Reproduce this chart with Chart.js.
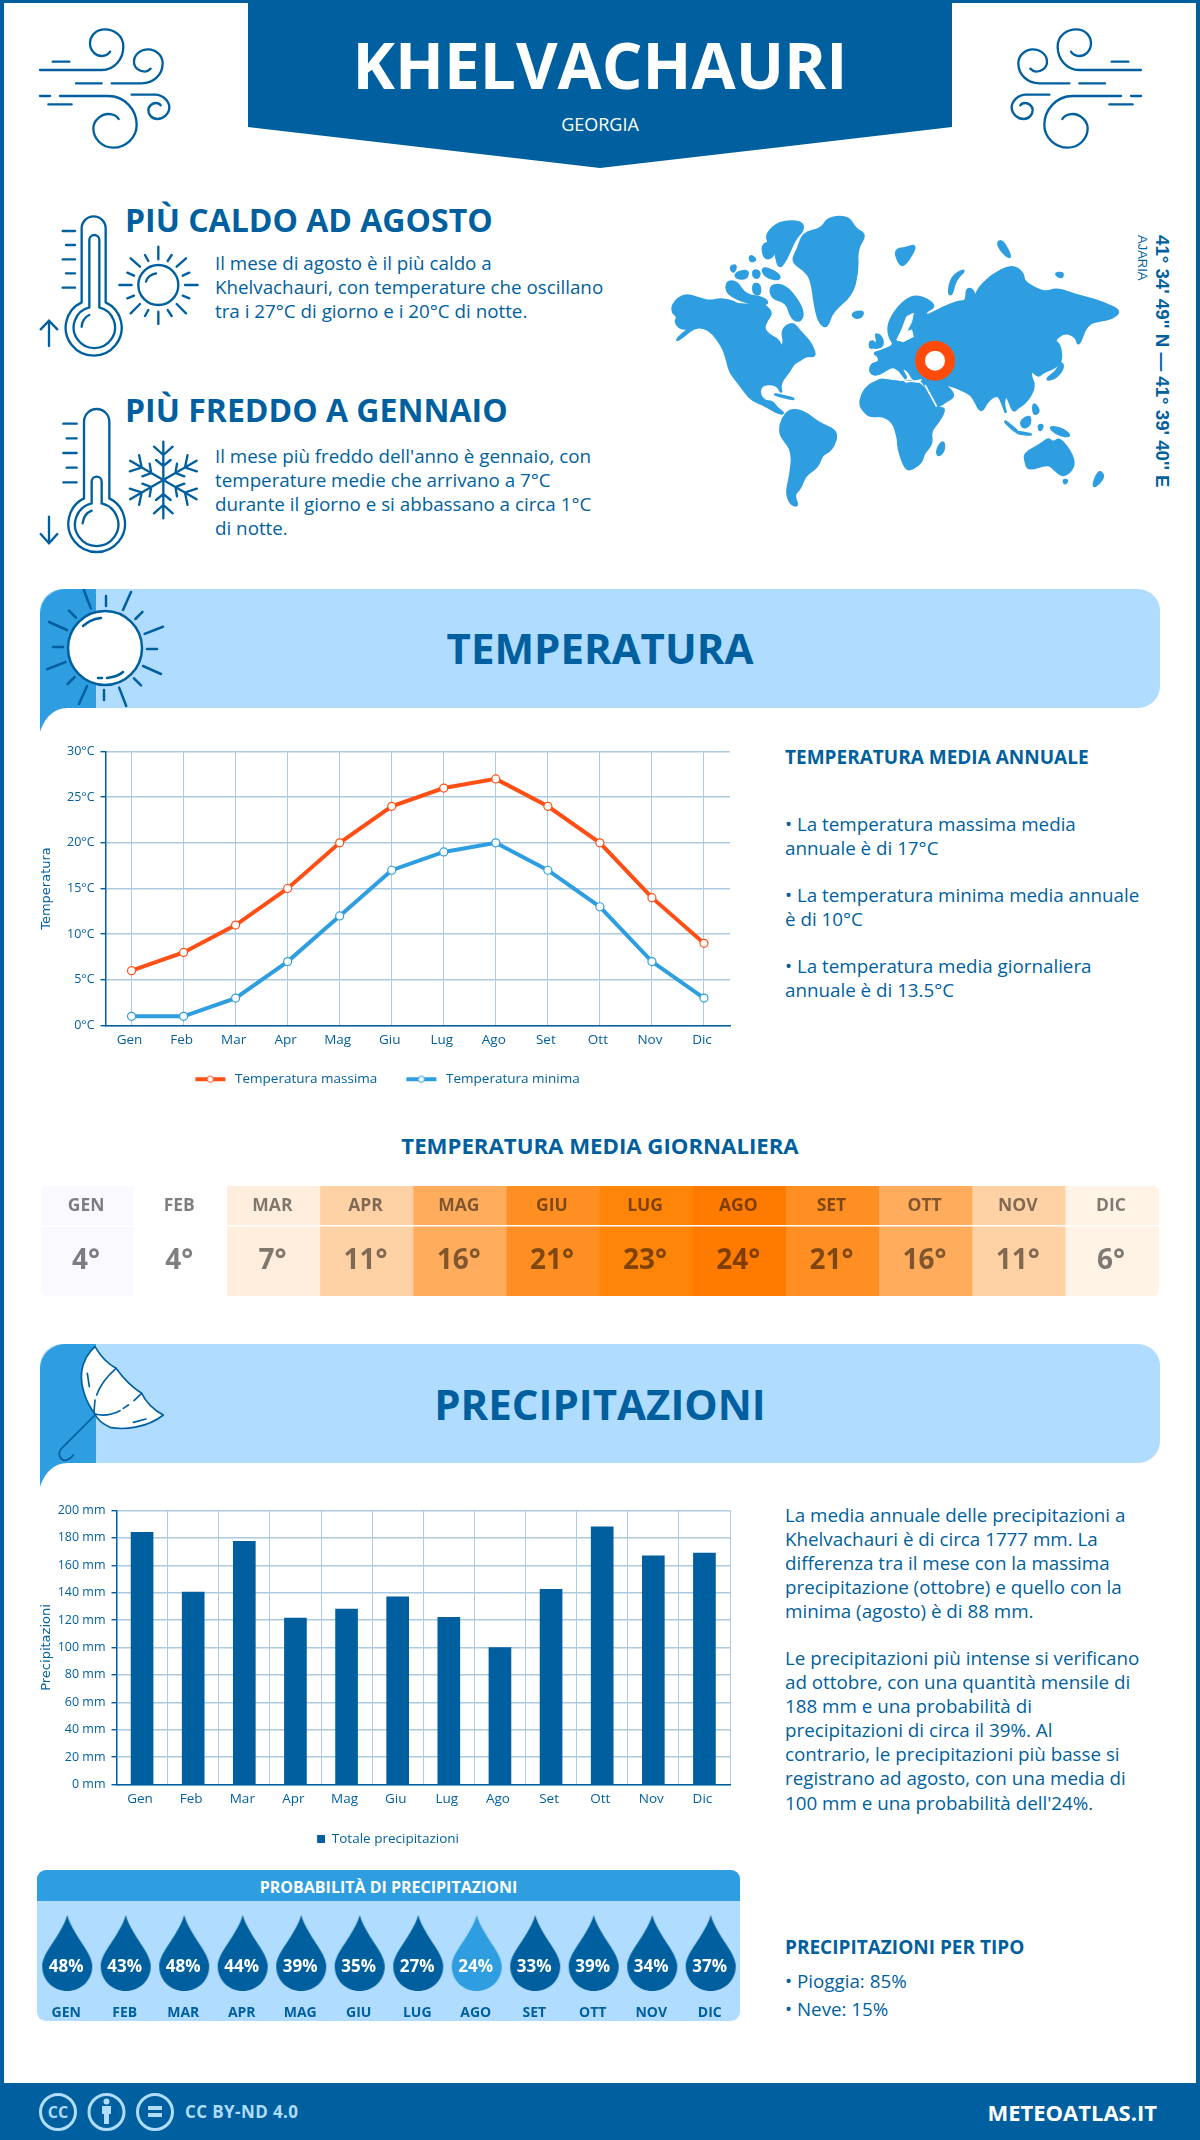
<!DOCTYPE html>
<html lang="it">
<head>
<meta charset="UTF-8">
<title>Khelvachauri - Georgia</title>
<script src="https://cdn.jsdelivr.net/npm/chart.js@4/dist/chart.umd.js"></script>
<style>
  html, body { margin: 0; padding: 0; background: #fff; }
  body { position: relative; width: 1200px; height: 2140px; overflow: hidden; font-family: "Open Sans", sans-serif; color: #005f9e; }
  .abs { position: absolute; white-space: nowrap; }
  .frame { position: absolute; left: 0; top: 0; width: 1200px; height: 2140px; box-sizing: border-box; border: solid #005f9e; border-width: 3px 4px 0 4px; }
  svg { position: absolute; overflow: visible; }
  canvas { position: absolute; }
  .title { left: 0; width: 1200px; text-align: center; font-weight: 700; }
  .big { font-size: 32px; font-weight: 700; left: 125px; line-height: 40px; }
  .body { font-size: 18.8px; line-height: 24px; left: 215px; }
  .side { left: 785px; font-size: 18.8px; line-height: 24px; }
  .head { left: 785px; font-size: 19px; font-weight: 700; line-height: 26px; }
  .band { font-size: 42px; font-weight: 700; left: 0; width: 1200px; text-align: center; line-height: 50px; }
</style>
</head>
<body>
<div class="frame"></div>

<!-- header -->
<svg style="left:0;top:0" width="1200" height="180"><polygon points="248,0 952,0 952,127 600,168 248,127" fill="#005f9e"/></svg>
<div class="abs title" style="top:23px;font-size:64px;line-height:84px;color:#fff">KHELVACHAURI</div>
<div class="abs title" style="top:112px;font-size:18px;line-height:24px;color:#fff;font-weight:400">GEORGIA</div>

<svg style="left:30px;top:20px" width="150" height="140" viewBox="0 0 450 420" fill="none" stroke="#005f9e" stroke-width="7" stroke-linecap="round">
  <g id="wind">
    <path d="M30,150 H215 C255,150 280,115 280,80 C280,45 250,28 225,28 C195,28 180,50 180,70 C180,95 200,108 215,108 C228,108 238,100 240,95"/>
    <path d="M68,125 H118 M138,190 H215 M30,228 H60 M55,253 H125"/>
    <path d="M245,190 H335 C370,190 398,165 398,130 C398,105 375,88 355,88 C330,88 312,105 312,125 C312,145 330,155 345,155 C352,155 358,150 362,146"/>
    <path d="M90,228 H235 C285,228 320,270 320,315 C320,355 285,383 250,383 C215,383 190,355 190,325 C190,300 215,282 235,282 C250,282 262,290 266,297"/>
    <path d="M305,224 H375 C400,224 418,245 418,262 C418,282 400,297 382,297 C365,297 355,283 355,270 C355,258 367,249 378,249 C385,249 390,253 392,256"/>
  </g>
</svg>
<svg style="left:1001px;top:20px;transform:scaleX(-1)" width="150" height="140" viewBox="0 0 450 420" fill="none" stroke="#005f9e" stroke-width="7" stroke-linecap="round"><use href="#wind"/></svg>

<!-- hottest / coldest -->
<svg style="left:30px;top:200px" width="190" height="170" viewBox="0 0 570 510" fill="none" stroke="#005f9e" stroke-width="7" stroke-linecap="round">
  <path d="M155,307 V85 a36,36 0 0 1 72,0 V307 A84,84 0 1 1 155,307 Z"/>
  <path d="M178,322 V120 a15,15 0 0 1 30,0 V322 A62,62 0 1 1 178,322 Z"/>
  <path d="M155,380 C155,365 165,350 178,345"/>
  <path d="M98,93 H135 M108,135 H135 M98,178 H135 M108,220 H135 M98,263 H135"/>
  <path d="M57,438 V362 M32,388 L57,362 L82,388"/>
  <circle cx="385" cy="255" r="60"/>
  <path d="M348,245 C350,232 365,222 378,220"/>
  <path d="M385,140 V178 M385,335 V372 M268,255 H305 M465,255 H503 M302,175 L330,200 M468,175 L440,200 M302,340 L330,312 M468,340 L440,312"/>
  <path d="M345,165 L355,183 M425,165 L413,183 M292,218 L312,227 M478,218 L458,227 M292,295 L312,287 M478,295 L458,287 M345,348 L355,330 M425,348 L413,330"/>
</svg>
<svg style="left:30px;top:400px" width="190" height="160" viewBox="0 0 570 480" fill="none" stroke="#005f9e" stroke-width="7" stroke-linecap="round">
  <path d="M162,295 V65 a38,38 0 0 1 76,0 V295 A85,85 0 1 1 162,295 Z"/>
  <path d="M185,310 V245 a15,15 0 0 1 30,0 V310 A65,65 0 1 1 185,310 Z"/>
  <path d="M158,370 C160,350 170,338 185,332"/>
  <path d="M100,71 H140 M110,115 H140 M100,159 H140 M110,203 H140 M100,247 H140"/>
  <path d="M57,350 V430 M32,402 L57,430 L82,402"/>
  <g id="arm"><path d="M400,240 V125 M372,140 L400,165 L428,140 M378,180 L400,198 L422,180"/></g>
  <use href="#arm" transform="rotate(60 400 240)"/>
  <use href="#arm" transform="rotate(120 400 240)"/>
  <use href="#arm" transform="rotate(180 400 240)"/>
  <use href="#arm" transform="rotate(240 400 240)"/>
  <use href="#arm" transform="rotate(300 400 240)"/>
</svg>

<div class="abs big" style="top:200px">PIÙ CALDO AD AGOSTO</div>
<div class="abs body" style="top:251px">Il mese di agosto è il più caldo a<br>Khelvachauri, con temperature che oscillano<br>tra i 27°C di giorno e i 20°C di notte.</div>
<div class="abs big" style="top:390px">PIÙ FREDDO A GENNAIO</div>
<div class="abs body" style="top:444px">Il mese più freddo dell'anno è gennaio, con<br>temperature medie che arrivano a 7°C<br>durante il giorno e si abbassano a circa 1°C<br>di notte.</div>

<!-- world map, outlines get smoothed by the script below -->
<svg id="world" style="left:665px;top:205px" width="505" height="310" viewBox="0 0 1515 930" fill="#2e9ee0" stroke="#2e9ee0" stroke-width="8" stroke-linejoin="round">
  <g id="land"></g>
  <g fill="#fff" stroke="#fff" stroke-width="3">
    <path d="M745,325 L725,335 L710,375 L695,405 L715,410 L745,395 L740,375 L725,380 L740,350 Z"/>
    <path d="M640,512 L700,500 L722,532 L770,524 L760,532 L690,524 L630,516 Z"/>
  </g>
  <path d="M780,540 L815,605" fill="none" stroke="#fff" stroke-width="5"/>
  <circle cx="810" cy="467" r="45" fill="#fff" stroke="#ff4b0a" stroke-width="30"/>
</svg>
<div class="abs" style="left:1173px;top:235px;transform-origin:0 0;transform:rotate(90deg);font:bold 18.7px 'Liberation Sans',sans-serif;line-height:22px">41° 34' 49'' N — 41° 39' 40'' E</div>
<div class="abs" style="left:1149px;top:235px;transform-origin:0 0;transform:rotate(90deg);font:13px 'Liberation Sans',sans-serif;line-height:14px">AJARIA</div>

<!-- temperature band -->
<svg style="left:0;top:580px" width="1200" height="160">
  <defs><clipPath id="clipA"><rect x="0" y="9" width="1200" height="119"/></clipPath></defs>
  <rect x="40" y="9" width="1120" height="119" rx="22" fill="#b0dcff"/>
  <path d="M40,152 V34 A25,25 0 0 1 65,9 H96 V128 H68 C52,128 44,140 40,152 Z" fill="#2e9ee0"/>
  <g clip-path="url(#clipA)" stroke="#005f9e" stroke-width="2.5" stroke-linecap="round" fill="none">
    <circle cx="105" cy="68" r="37" fill="#fff"/>
    <path d="M83,46 C88,42 92,39 101,38 M98,98 H102 M107,98 C114,97 120,95 123,92"/>
    <g id="ray"><path d="M123,30 L131,12"/><path d="M106,26 V16"/></g>
    <use href="#ray" transform="rotate(45 105 68)"/>
    <use href="#ray" transform="rotate(90 105 68)"/>
    <use href="#ray" transform="rotate(135 105 68)"/>
    <use href="#ray" transform="rotate(180 105 68)"/>
    <use href="#ray" transform="rotate(225 105 68)"/>
    <use href="#ray" transform="rotate(270 105 68)"/>
    <use href="#ray" transform="rotate(315 105 68)"/>
  </g>
</svg>
<div class="abs band" style="top:623px">TEMPERATURA</div>

<canvas id="temp-chart" style="left:0;top:738px"></canvas>

<div class="abs head" style="top:744px">TEMPERATURA MEDIA ANNUALE</div>
<div class="abs side" style="top:812px">• La temperatura massima media<br>annuale è di 17°C</div>
<div class="abs side" style="top:883px">• La temperatura minima media annuale<br>è di 10°C</div>
<div class="abs side" style="top:954px">• La temperatura media giornaliera<br>annuale è di 13.5°C</div>

<div class="abs title" style="top:1130px;font-size:22.2px;line-height:32px">TEMPERATURA MEDIA GIORNALIERA</div>
<canvas id="heat-chart" style="left:41px;top:1186px"></canvas>

<!-- precipitation band -->
<svg style="left:0;top:1335px" width="1200" height="160">
  <rect x="40" y="9" width="1120" height="119" rx="22" fill="#b0dcff"/>
  <path d="M40,152 V34 A25,25 0 0 1 65,9 H96 V128 H68 C52,128 44,140 40,152 Z" fill="#2e9ee0"/>
</svg>
<svg style="left:30px;top:1340px" width="150" height="150" viewBox="0 0 450 450" fill="none" stroke="#005f9e" stroke-width="5" stroke-linecap="round" stroke-linejoin="round">
  <path fill="#fff" d="M195,20 C215,55 240,75 258,85 C280,115 310,145 335,160 C350,190 375,212 400,225 C350,265 280,270 240,262 C215,250 200,235 195,222 C170,190 150,140 155,95 C160,60 178,35 195,20 Z"/>
  <path d="M195,222 C225,230 250,222 270,212 M280,205 L295,195 M258,85 C230,110 210,135 200,165 M335,160 L312,182 M172,100 L178,140 M195,180 L192,215 M310,247 L348,237"/>
  <path d="M195,225 L95,325 C78,345 95,365 110,360 C120,357 127,350 130,345"/>
</svg>
<div class="abs band" style="top:1379px">PRECIPITAZIONI</div>

<canvas id="rain-chart" style="left:0;top:1497px"></canvas>

<div class="abs side" style="top:1503px;line-height:24.1px">La media annuale delle precipitazioni a<br>Khelvachauri è di circa 1777 mm. La<br>differenza tra il mese con la massima<br>precipitazione (ottobre) e quello con la<br>minima (agosto) è di 88 mm.</div>
<div class="abs side" style="top:1646px;line-height:24.1px">Le precipitazioni più intense si verificano<br>ad ottobre, con una quantità mensile di<br>188 mm e una probabilità di<br>precipitazioni di circa il 39%. Al<br>contrario, le precipitazioni più basse si<br>registrano ad agosto, con una media di<br>100 mm e una probabilità dell'24%.</div>

<!-- probability panel -->
<svg style="left:37px;top:1870px" width="703" height="151">
  <rect width="703" height="151" rx="9" fill="#b0dcff"/>
  <path d="M0,31 V9 A9,9 0 0 1 9,0 H694 A9,9 0 0 1 703,9 V31 Z" fill="#2e9ee0"/>
</svg>
<div class="abs" style="left:37px;width:703px;text-align:center;top:1873px;font-size:16px;font-weight:700;line-height:28px;color:#fff">PROBABILITÀ DI PRECIPITAZIONI</div>
<canvas id="drop-chart" style="left:38px;top:1901px"></canvas>

<div class="abs head" style="top:1934px">PRECIPITAZIONI PER TIPO</div>
<div class="abs side" style="top:1969px">• Pioggia: 85%</div>
<div class="abs side" style="top:1997px">• Neve: 15%</div>

<!-- footer -->
<svg style="left:0;top:2083px" width="1200" height="57">
  <rect width="1200" height="57" fill="#005f9e"/>
  <g fill="none" stroke="#b0dcff" stroke-width="3">
    <circle cx="58" cy="29" r="17.5"/><circle cx="106.5" cy="29" r="17.5"/><circle cx="155" cy="29" r="17.5"/>
  </g>
  <g fill="#b0dcff">
    <circle cx="106.5" cy="18.5" r="3"/><path d="M102,23 H111 V31 H109 V41 H104 V31 H102 Z"/>
    <rect x="148" y="23" width="14" height="4"/><rect x="148" y="30" width="14" height="4"/>
  </g>
</svg>
<div class="abs" style="left:45px;width:26px;text-align:center;top:2101px;font-size:16px;font-weight:700;line-height:22px;color:#b0dcff">CC</div>
<div class="abs" style="left:185px;top:2100px;font-size:17px;font-weight:700;line-height:24px;color:#b0dcff;letter-spacing:.4px">CC BY-ND 4.0</div>
<div class="abs" style="right:43px;top:2096px;font-size:22px;font-weight:700;line-height:32px;color:#fff">METEOATLAS.IT</div>

<script>
const months = ['Gen', 'Feb', 'Mar', 'Apr', 'Mag', 'Giu', 'Lug', 'Ago', 'Set', 'Ott', 'Nov', 'Dic'];
const monthsUpper = ['GEN', 'FEB', 'MAR', 'APR', 'MAG', 'GIU', 'LUG', 'AGO', 'SET', 'OTT', 'NOV', 'DIC'];
const tempMax = [6, 8, 11, 15, 20, 24, 26, 27, 24, 20, 14, 9];
const tempMin = [1, 1, 3, 7, 12, 17, 19, 20, 17, 13, 7, 3];
const tempAvg = [4, 4, 7, 11, 16, 21, 23, 24, 21, 16, 11, 6];
const rainTotal = [184, 140.5, 177.5, 121.5, 128, 137, 122, 100, 142.5, 188, 167, 169];
const rainProb = [48, 43, 48, 44, 39, 35, 27, 24, 33, 39, 34, 37];

const BLUE = '#005f9e';
const SKY = '#2e9ee0';
const ORANGE = '#ff4f14';
const GRID = '#aecade';
const FONT = '"Open Sans", sans-serif';
const heatPalette = ['#faf9ff', '#ffffff', '#ffeedd', '#ffd2a6', '#ffad5c', '#ff8f22', '#ff8509', '#ff7b00', '#ff8f22', '#ffad5c', '#ffd2a6', '#fff3e6'];

// map outlines, traced by hand, only decoration
const landOutlines = [
  '20,320 28,290 60,268 100,280 135,290 165,282 205,290 215,298 250,300 280,295 305,305 320,325 305,345 295,370 310,390 340,405 350,430 358,410 352,385 360,365 385,355 400,375 420,395 440,420 452,455 425,450 405,465 385,475 372,500 350,525 345,545 350,565 338,540 305,535 285,545 283,570 300,590 322,590 335,610 358,625 340,625 300,600 262,585 240,560 215,525 195,500 183,450 170,420 145,385 115,365 85,368 60,390 30,410 55,385 75,370 45,370 30,350 40,335',
  '380,170 400,130 415,85 470,72 490,38 550,35 570,72 603,90 575,130 578,200 560,270 500,320 485,370 462,350 450,300 440,225 420,195',
  '305,85 345,50 410,50 415,75 390,100 360,170 340,190 330,130 310,115',
  '290,120 320,110 330,150 300,165',
  '185,230 215,230 240,270 300,280 310,300 240,292 185,265',
  '315,240 360,240 400,290 415,325 405,350 380,340 365,290 320,280',
  '195,185 215,180 205,205',
  '210,205 250,195 245,220 215,220',
  '265,195 285,200 280,220 265,215',
  '255,150 275,165 255,170',
  '290,185 340,205 345,225 300,215',
  '265,235 285,240 285,270 265,265',
  '345,675 350,645 375,612 420,622 460,655 520,680 500,735 470,748 458,785 420,810 405,850 385,870 400,905 375,895 365,860 375,820 385,740 350,695',
  '585,590 600,550 640,525 690,515 720,530 750,530 775,545 800,590 815,610 842,610 820,650 795,680 802,715 775,745 770,770 745,790 722,795 700,730 700,700 685,650 650,630 615,635 590,610',
  '835,705 838,735 820,755 815,735',
  '615,505 618,478 645,472 640,450 625,445 660,435 690,420 672,395 670,355 700,305 745,270 790,285 810,305 780,320 785,335 830,310 880,290 905,290 905,250 925,255 930,290 935,262 955,235 985,210 1040,180 1075,205 1075,232 1140,265 1175,250 1230,270 1290,285 1340,305 1365,320 1340,340 1310,345 1265,355 1240,425 1235,395 1200,380 1165,405 1185,420 1190,470 1165,490 1135,500 1120,515 1100,495 1095,510 1110,545 1085,590 1055,610 1045,620 1030,580 1020,570 1015,600 1025,630 1005,575 990,570 965,590 948,625 925,575 905,560 870,545 835,535 872,572 840,590 815,608 790,560 775,530 760,520 745,525 730,495 705,485 730,530 690,480 660,495 640,510',
  '630,385 650,395 655,425 620,430 640,410',
  '615,410 628,410 625,428 615,428',
  '560,325 595,318 590,335 570,340',
  '690,135 720,130 750,120 745,140 715,185 700,170',
  '850,265 860,215 905,190 870,225 860,270',
  '995,115 1012,105 1040,160 1020,150',
  '1168,205 1195,203 1190,220',
  '1140,525 1175,500 1190,470 1195,490 1170,520',
  '1010,640 1060,680 1050,680',
  '1065,650 1095,630 1095,660 1075,670',
  '1055,680 1110,690 1060,686',
  '1150,665 1190,670 1220,695 1180,690',
  '1105,590 1125,620 1105,630',
  '1120,660 1135,660 1125,680',
  '320,565 400,585 350,575',
  '1078,745 1130,718 1150,700 1165,715 1185,698 1225,755 1225,790 1195,815 1170,795 1150,775 1090,795 1082,770',
  '1195,825 1208,825 1200,838',
  '1300,795 1320,815 1280,855'
];

function smoothOutline(text) {
  const pts = text.split(' ').map(p => p.split(',').map(Number));
  const mid = (a, b) => [(a[0] + b[0]) / 2, (a[1] + b[1]) / 2];
  let d = 'M' + mid(pts[pts.length - 1], pts[0]).join(',');
  pts.forEach((p, i) => {
    d += ' Q' + p.join(',') + ' ' + mid(p, pts[(i + 1) % pts.length]).join(',');
  });
  return d + ' Z';
}
document.getElementById('land').innerHTML = landOutlines.map(o => '<path d="' + smoothOutline(o) + '"/>').join('');

Chart.defaults.font.family = FONT;
Chart.defaults.color = BLUE;
Chart.defaults.animation = false;
Chart.defaults.responsive = false;
Chart.defaults.plugins.tooltip.enabled = false;

function size(id, w, h) {
  const c = document.getElementById(id);
  c.width = w;
  c.height = h;
  c.style.width = w + 'px';
  c.style.height = h + 'px';
  return c;
}

// legend swatch: thick line with a white dot, the empty left part widens the gap between items
function swatch(color) {
  const c = document.createElement('canvas');
  c.width = 52;
  c.height = 12;
  const g = c.getContext('2d');
  g.fillStyle = color;
  g.fillRect(19, 4, 30, 4);
  g.beginPath();
  g.arc(34, 6, 3.2, 0, Math.PI * 2);
  g.fillStyle = '#fff';
  g.fill();
  g.lineWidth = 1;
  g.strokeStyle = color;
  g.stroke();
  return c;
}

// legend square for the bars, pushed right inside its box so the block sits where it should
function squareMark(color) {
  const c = document.createElement('canvas');
  c.width = 16;
  c.height = 8;
  const g = c.getContext('2d');
  g.fillStyle = color;
  g.fillRect(8, 0, 8, 8);
  return c;
}

new Chart(size('temp-chart', 744, 358), {
  type: 'line',
  data: {
    labels: months,
    datasets: [
      { label: 'Temperatura massima', data: tempMax, borderColor: ORANGE, backgroundColor: '#fff', borderWidth: 4, pointRadius: 4, pointBorderWidth: 1.2, tension: 0 },
      { label: 'Temperatura minima', data: tempMin, borderColor: SKY, backgroundColor: '#fff', borderWidth: 4, pointRadius: 4, pointBorderWidth: 1.2, tension: 0 }
    ]
  },
  options: {
    layout: { padding: { left: 26, right: 14, top: 10 } },
    scales: {
      x: {
        offset: true,
        grid: { offset: false, color: GRID, lineWidth: 1, drawTicks: false },
        border: { color: BLUE, width: 1.5 },
        ticks: { font: { size: 13.5 }, padding: 7, labelOffset: -2, maxRotation: 0 },
        afterFit: s => { s.height = 37; }
      },
      y: {
        min: 0, max: 30,
        grid: { color: GRID, lineWidth: 1.4, tickColor: BLUE, tickLength: 5 },
        border: { color: BLUE, width: 1.5 },
        ticks: { stepSize: 5, font: { size: 12.5 }, padding: 6, callback: v => v + '°C' },
        title: { display: true, text: 'Temperatura', color: BLUE, font: { family: '"DejaVu Sans"', size: 13 }, padding: { top: 13, bottom: 0 } },
        afterFit: s => { s.width = 79.5; }
      }
    },
    plugins: {
      legend: {
        position: 'bottom',
        labels: {
          usePointStyle: true,
          pointStyleWidth: 52,
          font: { size: 13.5 },
          generateLabels: chart => chart.data.datasets.map((d, i) => ({
            text: d.label, datasetIndex: i, pointStyle: swatch(d.borderColor), fontColor: BLUE, lineWidth: 0
          }))
        }
      }
    }
  }
});

// text for the heat strip, put on the bars through the x scale
const heatText = {
  id: 'heatText',
  afterDatasetsDraw(chart) {
    const { ctx, scales: { x }, chartArea: a } = chart;
    ctx.save();
    ctx.fillStyle = '#fff';
    ctx.fillRect(a.left, a.top + 39, a.width, 1.5);
    ctx.textAlign = 'center';
    ctx.textBaseline = 'middle';
    ctx.fillStyle = 'rgba(0,0,0,0.5)';
    monthsUpper.forEach((m, i) => {
      const px = x.getPixelForValue(i) - 1.5;
      ctx.font = '700 17.5px ' + FONT;
      ctx.fillText(m, px, a.top + 20);
      ctx.font = '700 28px ' + FONT;
      ctx.fillText(tempAvg[i] + '°', px, a.top + 75);
    });
    ctx.restore();
  }
};

new Chart(size('heat-chart', 1118, 110), {
  type: 'bar',
  data: {
    labels: monthsUpper,
    // every cell is a full height bar, the colour carries the value
    datasets: [{
      data: tempAvg.map(() => 1),
      backgroundColor: heatPalette,
      barPercentage: 1,
      categoryPercentage: 1,
      borderRadius: c => c.dataIndex === 0 ? { topLeft: 7, bottomLeft: 7 } : c.dataIndex === 11 ? { topRight: 7, bottomRight: 7 } : 0,
      borderSkipped: false
    }]
  },
  options: {
    scales: {
      x: { display: false },
      y: { display: false, min: 0, max: 1 }
    },
    plugins: { legend: { display: false } }
  },
  plugins: [heatText]
});

new Chart(size('rain-chart', 783, 359), {
  type: 'bar',
  data: {
    labels: months,
    datasets: [{ label: 'Totale precipitazioni', data: rainTotal, backgroundColor: BLUE, barThickness: 22 }]
  },
  options: {
    layout: { padding: { left: 38, right: 53, top: 9 } },
    scales: {
      x: {
        grid: { color: GRID, lineWidth: 1, drawTicks: false },
        border: { color: BLUE, width: 1.5 },
        ticks: { font: { size: 13.5 }, padding: 7, labelOffset: -2, maxRotation: 0 },
        afterFit: s => { s.height = 38; }
      },
      y: {
        min: 0, max: 200,
        grid: { color: GRID, lineWidth: 1.4, tickColor: BLUE, tickLength: 5 },
        border: { color: BLUE, width: 1.5 },
        ticks: { stepSize: 20, font: { size: 12.5 }, padding: 6, callback: v => v + ' mm' },
        title: { display: true, text: 'Precipitazioni', color: BLUE, font: { family: '"DejaVu Sans"', size: 13 }, padding: { top: 1, bottom: 0 } },
        afterFit: s => { s.width = 78.5; }
      }
    },
    plugins: {
      legend: {
        position: 'bottom',
        labels: {
          usePointStyle: true,
          pointStyleWidth: 16,
          font: { size: 13.5 },
          generateLabels: chart => chart.data.datasets.map((d, i) => ({
            text: d.label, datasetIndex: i, pointStyle: squareMark(BLUE), fontColor: BLUE, lineWidth: 0
          }))
        }
      }
    }
  }
});

// drop marker used as point style
function dropMark(color) {
  const c = document.createElement('canvas');
  c.width = 52;
  c.height = 78;
  const g = c.getContext('2d');
  g.fillStyle = color;
  g.beginPath();
  g.moveTo(26, 1);
  g.bezierCurveTo(32, 22, 51, 38, 51, 52);
  g.bezierCurveTo(51, 67, 39, 77, 26, 77);
  g.bezierCurveTo(13, 77, 1, 67, 1, 52);
  g.bezierCurveTo(1, 38, 20, 22, 26, 1);
  g.fill();
  return c;
}
const darkDrop = dropMark(BLUE);
const lightDrop = dropMark(SKY);
const driest = rainProb.indexOf(Math.min(...rainProb));

const dropText = {
  id: 'dropText',
  afterDatasetsDraw(chart) {
    const { ctx } = chart;
    const pts = chart.getDatasetMeta(0).data;
    ctx.save();
    ctx.textAlign = 'center';
    ctx.textBaseline = 'middle';
    ctx.fillStyle = '#fff';
    ctx.font = '700 17px ' + FONT;
    rainProb.forEach((v, i) => ctx.fillText(v + '%', pts[i].x - 1, pts[i].y + 14));
    ctx.restore();
  }
};

new Chart(size('drop-chart', 702, 120), {
  type: 'line',
  data: {
    labels: monthsUpper,
    datasets: [{
      data: rainProb.map(() => 0.5),
      showLine: false,
      clip: false,
      pointRadius: 38,
      pointStyle: c => c.dataIndex === driest ? lightDrop : darkDrop
    }]
  },
  options: {
    layout: { autoPadding: false, padding: { top: 9 } },
    scales: {
      x: {
        offset: true,
        grid: { display: false },
        border: { display: false },
        ticks: { font: { size: 14, weight: '700' }, padding: 1, labelOffset: -1, maxRotation: 0, autoSkip: false },
        afterFit: s => { s.height = 25; }
      },
      y: { display: false, min: 0, max: 1 }
    },
    plugins: { legend: { display: false } }
  },
  plugins: [dropText]
});
</script>
</body>
</html>
